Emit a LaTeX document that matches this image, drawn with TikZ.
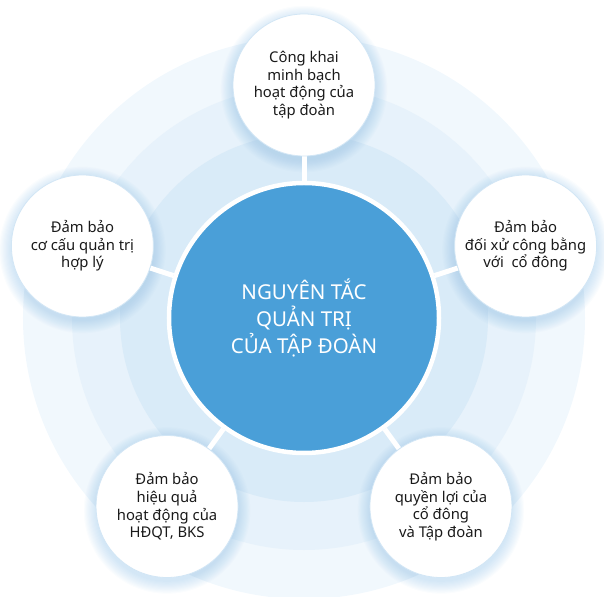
\documentclass[tikz,border=0pt]{standalone}
\usepackage{fontspec}
\setmainfont{Noto Sans}
\usetikzlibrary{positioning, backgrounds}
\definecolor{coreblue}{HTML}{4A9FD8}
\definecolor{ringa}{HTML}{D9EBF8}
\definecolor{ringb}{HTML}{E7F2FB}
\definecolor{ringc}{HTML}{F1F8FD}
\definecolor{glow}{HTML}{8EC0E8}
\definecolor{rim}{HTML}{D2E6F5}
\definecolor{ink}{HTML}{1A1A1A}

\begin{document}
\begin{tikzpicture}[x=1pt, y=1pt]
\useasboundingbox (-304,-278) rectangle (300,318);
\tikzset{
  principle/.style={circle, draw=rim, line width=0.8pt, fill=white, minimum size=142pt,
    inner sep=0pt, align=center, text=ink, font=\fontsize{14.8}{17.6}\selectfont},
  spoke/.style={draw=white, line width=5pt}
}
\node[circle, fill=coreblue, draw=white, line width=4.5pt, minimum size=270pt, align=center,
  text=white, font=\fontsize{20.5}{27}\selectfont] (core) {NGUYÊN TẮC\\QUẢN TRỊ\\CỦA TẬP ĐOÀN};

\node[principle] (open) at (90:233) {Công khai\\minh bạch\\hoạt động của\\tập đoàn};
\node[principle] (fair) at (18:233) {Đảm bảo\\đối xử công bằng\\với\ \ cổ đông};
\node[principle] (rights) at (-54:233) {Đảm bảo\\quyền lợi của\\cổ đông\\và Tập đoàn};
\node[principle] (board) at (-126:233) {Đảm bảo\\hiệu quả\\hoạt động của\\HĐQT, BKS};
\node[principle] (struct) at (162:233) {Đảm bảo\\cơ cấu quản trị\\hợp lý};

\begin{scope}[on background layer]
  % rings behind everything
  \fill[ringc] (core.center) circle (281);
  \fill[ringb] (core.center) circle (232);
  \fill[ringa] (core.center) circle (184);
  % soft glow under each principle
  \foreach \p in {open, fair, rights, board, struct}
    \foreach \k in {1,...,12}
      \fill[glow, opacity=0.04] ([yshift=-4]\p.center) circle (70+\k*1.1);
  \draw[spoke] (core) -- (open);
  \draw[spoke] (core) -- (fair);
  \draw[spoke] (core) -- (rights);
  \draw[spoke] (core) -- (board);
  \draw[spoke] (core) -- (struct);
\end{scope}
\end{tikzpicture}
\end{document}
